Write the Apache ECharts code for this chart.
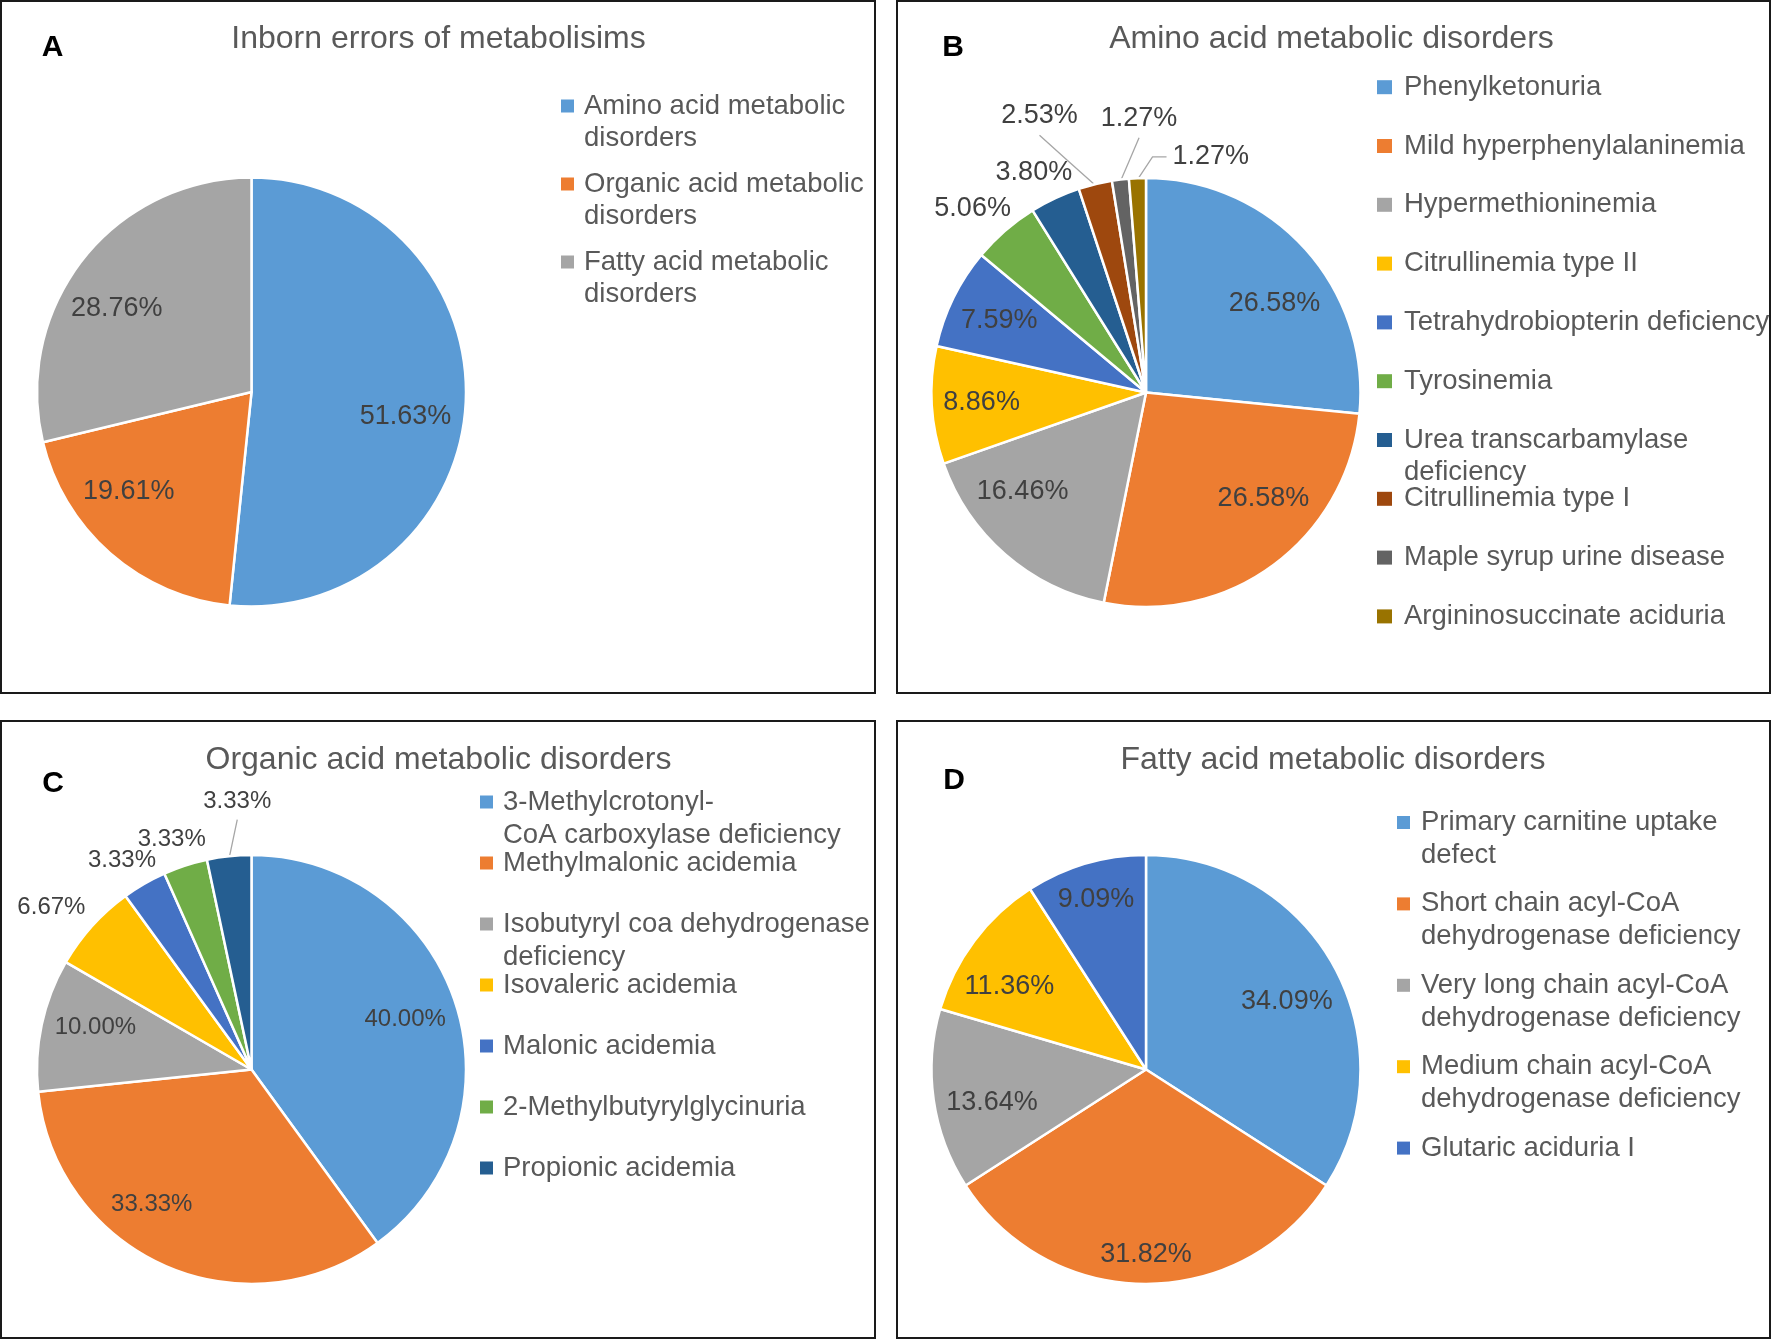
<!DOCTYPE html>
<html>
<head>
<meta charset="utf-8">
<script src="https://cdn.jsdelivr.net/npm/echarts@6/dist/echarts.min.js"></script>
<style>
html,body{margin:0;padding:0;background:#ffffff;}
#chart{width:1772px;height:1340px;}
</style>
</head>
<body>
<div id="chart"></div>
<script>
// ---------------- data ----------------
const titleA = 'Inborn errors of metabolisims';
const catA = ['Amino acid metabolic\ndisorders', 'Organic acid metabolic\ndisorders', 'Fatty acid metabolic\ndisorders'];
const valA = [51.63, 19.61, 28.76];

const titleB = 'Amino acid metabolic disorders';
const catB = ['Phenylketonuria', 'Mild hyperphenylalaninemia', 'Hypermethioninemia', 'Citrullinemia type II',
  'Tetrahydrobiopterin deficiency', 'Tyrosinemia', 'Urea transcarbamylase\ndeficiency', 'Citrullinemia type I',
  'Maple syrup urine disease', 'Argininosuccinate aciduria'];
const valB = [26.58, 26.58, 16.46, 8.86, 7.59, 5.06, 3.80, 2.53, 1.27, 1.27];

const titleC = 'Organic acid metabolic disorders';
const catC = ['3-Methylcrotonyl-\nCoA carboxylase deficiency', 'Methylmalonic acidemia',
  'Isobutyryl coa dehydrogenase\ndeficiency', 'Isovaleric acidemia', 'Malonic acidemia',
  '2-Methylbutyrylglycinuria', 'Propionic acidemia'];
const valC = [40.00, 33.33, 10.00, 6.67, 3.33, 3.33, 3.33];

const titleD = 'Fatty acid metabolic disorders';
const catD = ['Primary carnitine uptake\ndefect', 'Short chain acyl-CoA\ndehydrogenase deficiency',
  'Very long chain acyl-CoA\ndehydrogenase deficiency', 'Medium chain acyl-CoA\ndehydrogenase deficiency',
  'Glutaric aciduria I'];
const valD = [34.09, 31.82, 13.64, 11.36, 9.09];

// ---------------- style / layout ----------------
const PALETTE = ['#5B9BD5', '#ED7D31', '#A5A5A5', '#FFC000', '#4472C4', '#70AD47', '#255E91', '#9E480E', '#636363', '#997300'];
const FONT = "'Liberation Sans', Arial, Helvetica, sans-serif";
const RADIUS = 214.5, R_VIS = 213, D_IN = 204, D_OUT = 219;

const panels = [
  { letter: 'A', title: titleA, cats: catA, vals: valA, center: [251.5, 392], titlePos: [438.5, 39], letterPos: [52.5, 48],
    labelSize: 27, outside: [], leader: [], nudge: {0: [-3, 16], 1: [-16, -22], 2: [-10, 15]},
    legend: {left: 561, iw: 13, ih: 13, lh: 32, padL: 5, top0: 106, step: 78},
    box: [1, 1, 874, 692] },
  { letter: 'B', title: titleB, cats: catB, vals: valB, center: [1146, 392.5], titlePos: [1331.5, 39], letterPos: [953, 48],
    labelSize: 27, outside: [5, 6, 7, 8, 9], leader: [7, 8, 9],
    nudge: {0: [10, 18], 1: [20, -26], 2: [-17, -23], 5: [-7, 7], 6: [-8, 2], 7: [-50, -45], 8: [21, -42], 9: [74, -5]},
    legend: {left: 1377, iw: 15, ih: 14, lh: 32, padL: 7, top0: 87.2, step: 58.8},
    box: [897, 1, 873, 692] },
  { letter: 'C', title: titleC, cats: catC, vals: valC, center: [251.5, 1069.5], titlePos: [438.5, 760.5], letterPos: [53, 784],
    labelSize: 24, outside: [3, 4, 5, 6], leader: [6],
    nudge: {1: [-29, -24], 2: [2, -8], 3: [-13, 6], 4: [-7, 3], 5: [-6, -3], 6: [10, -37]},
    legend: {left: 480, iw: 13, ih: 13, lh: 33, padL: 5, top0: 802, step: 61},
    box: [1, 721, 874, 617] },
  { letter: 'D', title: titleD, cats: catD, vals: valD, center: [1146, 1069.5], titlePos: [1333, 760.5], letterPos: [954, 781],
    labelSize: 27, outside: [], leader: [], nudge: {0: [3, 7], 2: [1, 11], 3: [-9, 13]},
    legend: {left: 1397, iw: 13, ih: 13, lh: 33, padL: 6, top0: 822.5, step: 81.4},
    box: [897, 721, 873, 617] }
];

function makeLabelLayout(P) {
  const vals = P.vals;
  const total = vals.reduce((a, b) => a + b, 0);
  const cum = [];
  let s = 0;
  vals.forEach(v => { cum.push(s); s += v; });
  const cx = P.center[0], cy = P.center[1];
  return function (p) {
    const i = p.dataIndex;
    const th = (cum[i] + vals[i] / 2) / total * 2 * Math.PI;
    const ux = Math.sin(th), uy = -Math.cos(th);
    const hw = p.labelRect.width / 2, hh = p.labelRect.height / 2;
    const out = P.outside.indexOf(i) >= 0;
    const D = out ? D_OUT : D_IN;
    const b = Math.abs(ux) * hw + Math.abs(uy) * hh;
    const c = hw * hw + hh * hh - D * D;
    const t = out ? b + Math.sqrt(b * b - c) : -b + Math.sqrt(b * b - c);
    const nd = P.nudge[i] || [0, 0];
    const x = cx + t * ux + nd[0], y = cy + t * uy + nd[1];
    const res = {x: x, y: y, align: 'center', verticalAlign: 'middle'};
    if (P.leader.indexOf(i) >= 0) {
      const ex = cx + R_VIS * ux, ey = cy + R_VIS * uy;
      const gapX = Math.max(0, Math.abs(x - ex) - hw);
      const gapY = Math.max(0, Math.abs(y - ey) - hh);
      if (gapX > gapY) {
        const sg = x > ex ? -1 : 1;
        const ax = x + sg * (hw + 6), ay = y;
        res.labelLinePoints = [[ex, ey], [ax + sg * 14, ay], [ax, ay]];
      } else {
        const sg = y > ey ? -1 : 1;
        const ax = x, ay = y + sg * (hh + 6);
        res.labelLinePoints = [[ex, ey], [(ex + ax) / 2, (ey + ay) / 2], [ax, ay]];
      }
    }
    return res;
  };
}

const series = panels.map(P => ({
  type: 'pie',
  center: P.center,
  radius: RADIUS,
  startAngle: 90,
  clockwise: true,
  avoidLabelOverlap: false,
  emphasis: {disabled: true},
  itemStyle: {borderColor: '#ffffff', borderWidth: 2.5},
  label: {
    show: true, position: 'inside',
    formatter: p => p.value.toFixed(2) + '%',
    fontSize: P.labelSize, color: '#404040', fontFamily: FONT
  },
  labelLine: {show: false, lineStyle: {color: '#A6A6A6', width: 1.3}},
  labelLayout: makeLabelLayout(P),
  data: P.vals.map((v, i) => ({
    name: P.cats[i],
    value: v,
    itemStyle: {color: PALETTE[i]},
    label: {position: P.outside.indexOf(i) >= 0 ? 'outside' : 'inside'},
    labelLine: {show: P.leader.indexOf(i) >= 0}
  }))
}));

// one legend component per entry so that wrapped entries keep the marker on their first line
const legends = [];
panels.forEach(P => {
  const L = P.legend;
  P.cats.forEach((name, i) => {
    const two = name.indexOf('\n') >= 0;
    const mid = L.top0 + L.step * i;
    legends.push({
      data: [name],
      orient: 'vertical',
      left: L.left,
      top: mid - (two ? 1.5 * L.lh : 0.5 * L.lh),
      padding: 0,
      itemWidth: L.iw,
      itemHeight: L.ih,
      icon: 'rect',
      selectedMode: false,
      formatter: two ? '\n{name}' : '{name}',
      itemStyle: {borderWidth: 0},
      textStyle: {
        fontSize: 27.5, color: '#595959', fontFamily: FONT,
        lineHeight: L.lh,
        padding: [0, 0, 0, L.padL]
      }
    });
  });
});

const titles = [];
panels.forEach(P => {
  titles.push({
    text: P.title, left: P.titlePos[0], top: P.titlePos[1], padding: 0,
    textAlign: 'center', textVerticalAlign: 'middle',
    textStyle: {fontSize: 32, fontWeight: 'normal', color: '#595959', fontFamily: FONT}
  });
  titles.push({
    text: P.letter, left: P.letterPos[0], top: P.letterPos[1], padding: 0,
    textAlign: 'center', textVerticalAlign: 'middle',
    textStyle: {fontSize: 30, fontWeight: 'bold', color: '#000000', fontFamily: FONT}
  });
});

const graphics = panels.map(P => ({
  type: 'rect', silent: true, z: -1,
  shape: {x: P.box[0], y: P.box[1], width: P.box[2], height: P.box[3]},
  style: {fill: 'none', stroke: '#1a1a1a', lineWidth: 2}
}));

const chart = echarts.init(document.getElementById('chart'), null, {renderer: 'canvas'});
chart.setOption({
  backgroundColor: '#ffffff',
  animation: false,
  title: titles,
  legend: legends,
  graphic: graphics,
  series: series
});
</script>
</body>
</html>
